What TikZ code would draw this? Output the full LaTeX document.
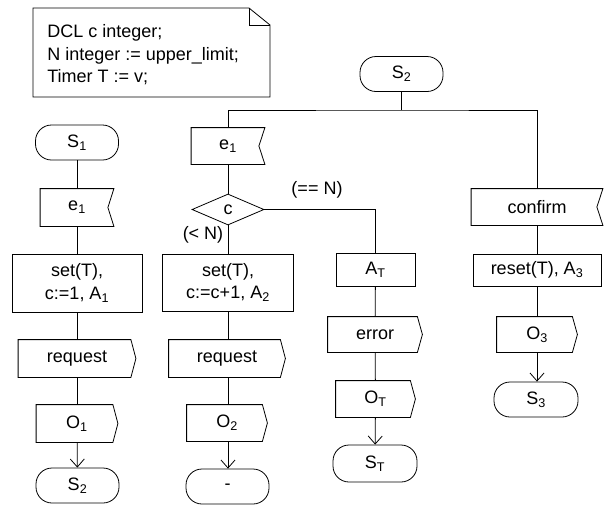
\documentclass[tikz,border=0pt]{standalone}
\usepackage{fontspec}
\setmainfont{Liberation Sans}
\usetikzlibrary{arrows.meta,shapes.geometric,calc}

\begin{document}
\begin{tikzpicture}[x=1pt,y=-1pt,line width=0.8pt,
  every node/.style={font=\fontsize{18}{22.5}\selectfont,inner sep=0pt},
  terminal/.style={draw,rectangle,rounded corners=16pt,minimum width=83pt,minimum height=35pt},
  task/.style={draw,rectangle,align=center},
  sigbox/.style={rectangle},
  decision/.style={draw,diamond,minimum width=72pt,minimum height=31pt},
  toterm/.style={-{Straight Barb[length=8pt,width=14pt]}}]
\useasboundingbox (0,0) rectangle (604,507);

% declaration note with folded corner
\draw (33,8) -- (249,8) -- (270,25) -- (270,97) -- (33,97) -- cycle;
\draw (249,8) -- (249,25) -- (270,25);
\node[anchor=west,align=left] (decl) at (47,55)
  {DCL c integer;\\N integer := upper\_limit;\\Timer T := v;};

% left branch: start state S1
\node[terminal] (S1) at (77,142.5) {S\textsubscript{1}};
\node[sigbox,minimum width=73pt,minimum height=37pt] (e1L) at (77,207.5) {e\textsubscript{1}};
\node[task,minimum width=130pt,minimum height=58pt] (setL) at (77,283) {set(T),\\c:=1, A\textsubscript{1}};
\node[sigbox,minimum width=117pt,minimum height=37pt] (reqL) at (77,358.5) {request};
\node[sigbox,minimum width=81pt,minimum height=37pt] (O1) at (77,423.5) {O\textsubscript{1}};
\node[terminal] (S2L) at (77.5,485.5) {S\textsubscript{2}};

% right part: state S2
\node[terminal] (S2top) at (401.5,74) {S\textsubscript{2}};
\coordinate (split) at (401.5,110);

\node[sigbox,minimum width=73pt,minimum height=36pt] (e1M) at (228,146) {e\textsubscript{1}};
\node[decision] (dec) at (228,209.5) {c};
\node[task,minimum width=131pt,minimum height=57pt] (setM) at (228,282.5) {set(T),\\c:=c+1, A\textsubscript{2}};
\node[sigbox,minimum width=116pt,minimum height=37pt] (reqM) at (227,358.5) {request};
\node[sigbox,minimum width=80pt,minimum height=36pt] (O2) at (227,423) {O\textsubscript{2}};
\node[terminal] (dash) at (227.5,486.5) {-};

\node (eqN) at (317,190) {(== N)};
\node (ltN) at (203,235) {(< N)};

\node[task,minimum width=79pt,minimum height=33pt] (AT) at (375.5,269.5) {A\textsubscript{T}};
\node[sigbox,minimum width=94pt,minimum height=35pt] (err) at (375,334.5) {error};
\node[sigbox,minimum width=79pt,minimum height=36pt] (OT) at (375.5,399) {O\textsubscript{T}};
\node[terminal,minimum width=84pt,minimum height=37pt] (ST) at (375,463.5) {S\textsubscript{T}};

\node[sigbox,minimum width=131pt,minimum height=36pt] (conf) at (537,207) {confirm};
\node[task,minimum width=128pt,minimum height=32pt] (reset) at (537,270) {reset(T), A\textsubscript{3}};
\node[sigbox,minimum width=80pt,minimum height=35pt] (O3) at (537,334.5) {O\textsubscript{3}};
\node[terminal,minimum width=84pt] (S3) at (536,399.5) {S\textsubscript{3}};

% input signal outlines (notch on the right)
\foreach \n in {e1L,e1M,conf}
  \draw (\n.north west) -- (\n.north east) -- ([xshift=-6pt]\n.east)
        -- (\n.south east) -- (\n.south west) -- cycle;
% output signal outlines (point on the right)
\foreach \n in {reqL,reqM,O1,O2,err,OT,O3}
  \draw (\n.north west) -- ([xshift=-5pt]\n.north east) -- (\n.east)
        -- ([xshift=-5pt]\n.south east) -- (\n.south west) -- cycle;

% connectors
\draw (S1) -- (e1L);
\draw (e1L) -- (setL);
\draw (setL) -- (reqL);
\draw (reqL) -- (O1);
\draw[toterm] (O1) -- (S2L);

\draw (S2top) -- (split);
\draw (e1M.north) |- (split) -| (conf.north);
\draw (e1M) -- (dec);
\draw (dec) -- (setM);
\draw (setM) -- (reqM.north -| setM.south);
\draw (reqM.south -| setM.south) -- (O2.north -| setM.south);
\draw[toterm] (O2.south -| setM.south) -- (dash.north -| setM.south);

\draw (dec.east) -| (AT.north);
\draw (AT) -- (err);
\draw (err) -- (OT);
\draw[toterm] (OT) -- (ST);

\draw (conf) -- (reset);
\draw (reset) -- (O3);
\draw[toterm] (O3.south) -- (S3.north -| O3.south);
\end{tikzpicture}
\end{document}
